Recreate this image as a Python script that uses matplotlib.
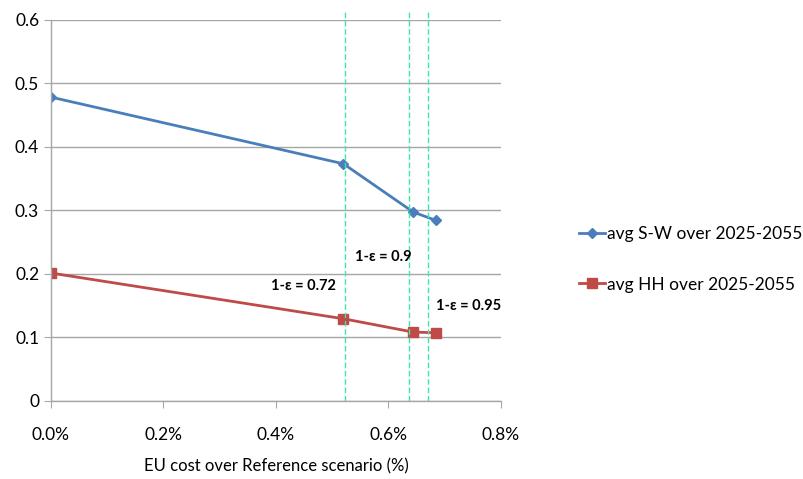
import matplotlib.pyplot as plt
from matplotlib.ticker import FuncFormatter

plt.rcParams['font.family'] = ['Lato', 'DejaVu Sans']

cost = [0.0, 0.520, 0.644, 0.684]          # EU cost over reference, %
sw = [0.478, 0.373, 0.297, 0.284]          # avg S-W over 2025-2055
hh = [0.201, 0.129, 0.108, 0.107]          # avg HH over 2025-2055
eps_x = [0.522, 0.636, 0.671]              # vertical marker lines
eps_labels = ['1-ε = 0.72', '1-ε = 0.9', '1-ε = 0.95']
eps_pos = [(0.448, 0.181), (0.591, 0.227), (0.743, 0.149)]

fig = plt.figure(figsize=(8.04, 4.79), dpi=100)
ax = fig.add_axes([0.0634, 0.1635, 0.5597, 0.7955])

ax.plot(cost, sw, color='#4A7EBB', lw=2, marker='D', ms=5,
        label='avg S-W over 2025-2055')
ax.plot(cost, hh, color='#BE4B48', lw=2, marker='s', ms=7,
        label='avg HH over 2025-2055')

for x in eps_x:
    ax.plot([x, x], [0, 0.612], color='#3DE8A6', lw=1, ls=(0, (4, 2)),
            clip_on=False)
for lab, (x, y) in zip(eps_labels, eps_pos):
    ax.text(x, y, lab, ha='center', va='center', fontsize=10.5,
            fontweight='bold', color='black')

ax.set_xlim(0, 0.8)
ax.set_ylim(0, 0.6)
ax.set_xticks([0, 0.2, 0.4, 0.6, 0.8])
ax.set_yticks([0, 0.1, 0.2, 0.3, 0.4, 0.5, 0.6])
ax.xaxis.set_major_formatter(FuncFormatter(lambda v, p: '%.1f%%' % v))
ax.yaxis.set_major_formatter(FuncFormatter(lambda v, p: '0' if v == 0 else '%.1f' % v))
ax.grid(axis='y', color='#A6A6A6', lw=1)
ax.set_axisbelow(True)
for s in ['top', 'right']:
    ax.spines[s].set_visible(False)
for s in ['left', 'bottom']:
    ax.spines[s].set_color('#A6A6A6')
    ax.spines[s].set_linewidth(1)
ax.tick_params(axis='both', colors='#A6A6A6', labelcolor='black',
               labelsize=12.5, length=5)
ax.tick_params(axis='x', pad=14)
ax.set_xlabel('EU cost over Reference scenario (%)', fontsize=12, labelpad=11)

fig.legend(*ax.get_legend_handles_labels(), loc='center left',
           bbox_to_anchor=(0.712, 0.459), frameon=False,
           fontsize=12.5, handlelength=1.5, handletextpad=0.1,
           labelspacing=2.0, borderaxespad=0)

fig.savefig('out.png', dpi=100)
